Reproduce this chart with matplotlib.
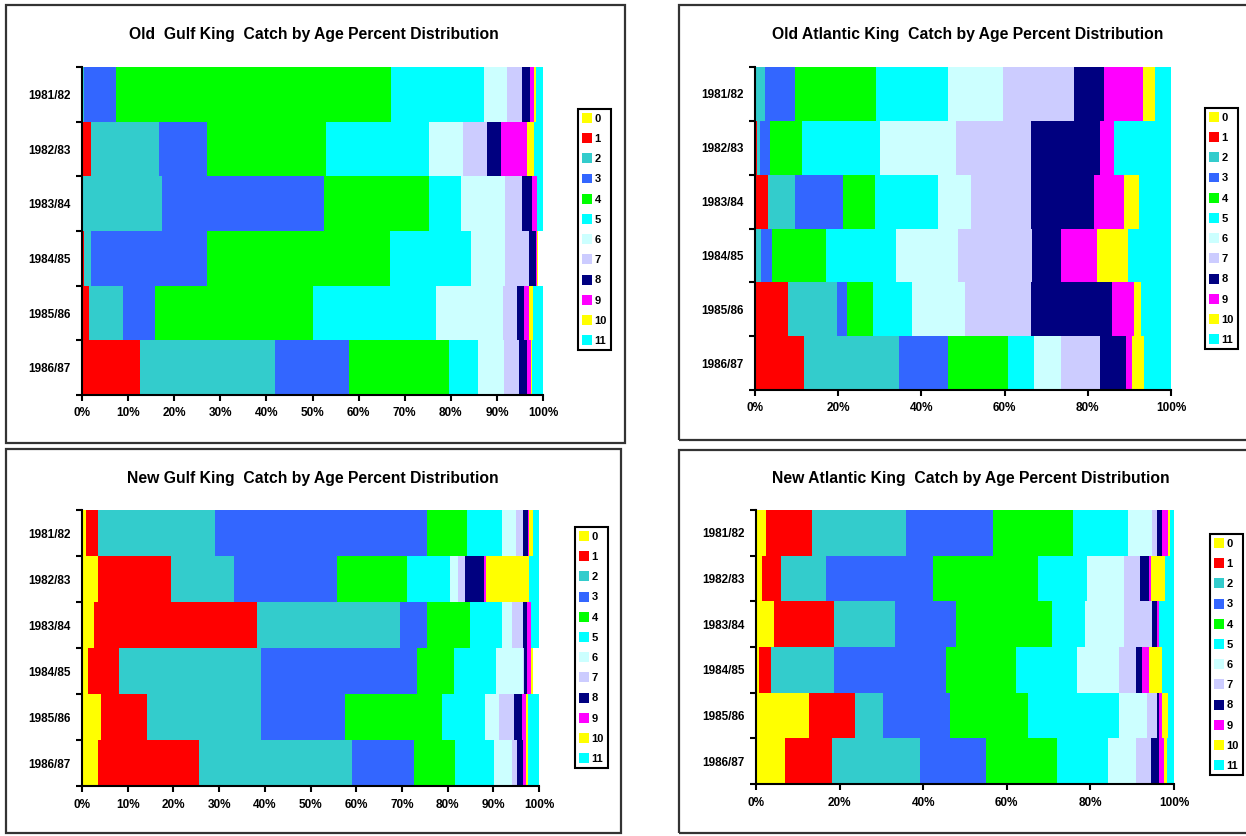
import numpy as np
import matplotlib
matplotlib.use("Agg")
import matplotlib.pyplot as plt
from matplotlib.patches import Patch, Rectangle

W, H = 1246, 836

seasons = ["1981/82", "1982/83", "1983/84", "1984/85", "1985/86", "1986/87"]
ages = [str(a) for a in range(12)]
age_colors = ["#FFFF00", "#FF0000", "#33CCCC", "#3366FF", "#00FF00", "#00FFFF",
              "#CCFFFF", "#CCCCFF", "#000080", "#FF00FF", "#FFFF00", "#00FFFF"]

# percent of catch at age 0..11, one row per season
old_gulf = [
    [0.2, 0.0, 0.2, 7.0, 59.7, 20.0, 5.1, 3.3, 1.6, 0.9, 0.4, 1.6],
    [0.3, 1.7, 14.7, 10.5, 25.7, 22.3, 7.4, 5.2, 3.0, 5.8, 1.4, 2.0],
    [0.2, 0.0, 17.2, 35.0, 22.8, 7.0, 9.6, 3.7, 2.2, 1.0, 0.1, 1.2],
    [0.1, 0.4, 1.4, 25.3, 39.6, 17.6, 7.4, 5.1, 1.6, 0.3, 0.2, 0.0],
    [0.3, 1.3, 7.4, 6.8, 34.2, 26.7, 14.6, 3.1, 1.4, 1.1, 1.0, 2.1],
    [0.3, 12.3, 29.3, 16.1, 21.6, 6.4, 5.5, 3.3, 1.7, 0.8, 0.4, 2.3],
]
old_atlantic = [
    [0.2, 0.1, 2.1, 7.3, 19.5, 17.1, 13.4, 17.1, 7.1, 9.4, 2.8, 3.9],
    [0.2, 0.4, 0.6, 2.3, 7.7, 18.8, 18.4, 18.0, 16.6, 3.3, 0.0, 13.7],
    [0.2, 3.0, 6.5, 11.4, 7.7, 15.1, 8.1, 14.4, 15.1, 7.3, 3.6, 7.6],
    [0.3, 0.0, 1.1, 2.6, 13.0, 16.8, 14.9, 17.9, 7.0, 8.6, 7.4, 10.4],
    [0.3, 7.7, 11.8, 2.4, 6.2, 9.3, 12.7, 16.0, 19.4, 5.3, 1.6, 7.3],
    [0.3, 11.4, 22.8, 11.8, 14.4, 6.3, 6.6, 9.3, 6.2, 1.6, 2.8, 6.5],
]
new_gulf = [
    [0.9, 2.6, 25.5, 46.6, 8.6, 7.8, 3.0, 1.4, 1.3, 0.2, 0.7, 1.4],
    [3.5, 16.0, 13.7, 22.5, 15.5, 9.3, 1.7, 1.6, 4.2, 0.5, 9.4, 2.1],
    [2.6, 35.7, 31.2, 6.1, 9.3, 7.1, 2.2, 2.2, 0.9, 0.9, 0.0, 1.8],
    [1.3, 6.7, 31.1, 34.3, 8.1, 9.1, 5.8, 0.3, 0.6, 0.9, 0.4, 0.0],
    [4.2, 10.0, 24.9, 18.5, 21.1, 9.4, 3.2, 3.3, 1.6, 0.9, 0.6, 2.3],
    [3.5, 22.2, 33.3, 13.7, 8.9, 8.6, 3.8, 1.2, 1.4, 0.5, 0.6, 2.3],
]
new_atlantic = [
    [2.5, 10.9, 22.6, 20.6, 19.2, 13.2, 5.8, 1.1, 1.2, 1.5, 0.4, 1.0],
    [1.4, 4.5, 10.8, 25.7, 25.0, 11.7, 9.0, 3.7, 2.2, 0.4, 3.4, 2.2],
    [4.4, 14.3, 14.5, 14.6, 22.9, 8.0, 9.3, 6.8, 1.2, 0.3, 0.0, 3.7],
    [0.7, 3.0, 15.0, 26.7, 16.9, 14.5, 10.1, 3.9, 1.6, 1.6, 3.1, 2.9],
    [12.6, 11.0, 6.8, 16.1, 18.6, 21.7, 6.8, 2.4, 0.4, 0.8, 1.4, 1.4],
    [7.0, 11.3, 21.0, 15.7, 16.9, 12.2, 6.9, 3.4, 2.0, 1.1, 0.8, 1.7],
]

plt.rcParams["font.family"] = ["Liberation Sans", "DejaVu Sans"]
plt.rcParams["font.weight"] = "bold"


def fx(x):
    return x / W


def fy(y):
    return 1 - y / H


def draw_panel(fig, data, title, step, box, axes_px, title_xy, legend_xy):
    # outer frame of the chart object
    x0, y0, x1, y1 = box
    fig.add_artist(Rectangle((fx(x0), fy(y1)), (x1 - x0) / W, (y1 - y0) / H,
                             transform=fig.transFigure, fill=False,
                             edgecolor="#333333", linewidth=1.6))
    fig.text(fx(title_xy[0]), fy(title_xy[1]), title, ha="center", va="center",
             fontsize=11.3, fontweight="bold")

    ax_l, ax_t, ax_r, ax_b = axes_px
    ax = fig.add_axes([fx(ax_l), fy(ax_b), (ax_r - ax_l) / W, (ax_b - ax_t) / H])

    values = np.array(data)
    y = np.arange(len(seasons))
    left = np.zeros(len(seasons))
    for i, age in enumerate(ages):
        ax.barh(y, values[:, i], left=left, height=1.0, color=age_colors[i],
                linewidth=0, label=age)
        left += values[:, i]

    ax.set_xlim(0, 100)
    ax.set_ylim(len(seasons) - 0.5, -0.5)
    ax.set_xticks(np.arange(0, 101, step))
    ax.set_xticklabels(["{0}%".format(v) for v in range(0, 101, step)])
    ax.set_yticks(np.arange(len(seasons) + 1) - 0.5)
    ax.set_yticklabels([])
    ax.set_yticks(y, minor=True)
    ax.set_yticklabels(seasons, minor=True)
    ax.tick_params(axis="y", which="major", direction="out", length=4, width=1.5)
    ax.tick_params(axis="y", which="minor", length=0, pad=8, labelsize=8.5)
    ax.tick_params(axis="x", direction="out", length=4, width=1.5, pad=5, labelsize=8.5)
    for s in ["top", "right"]:
        ax.spines[s].set_visible(False)
    for s in ["left", "bottom"]:
        ax.spines[s].set_linewidth(1.5)

    handles = [Patch(facecolor=c, edgecolor="none") for c in age_colors]
    leg = fig.legend(handles, ages, loc="upper left",
                     bbox_to_anchor=(fx(legend_xy[0]), fy(legend_xy[1])),
                     frameon=True, fancybox=False, edgecolor="black", framealpha=1,
                     prop={"weight": "bold", "size": 8},
                     handlelength=0.9, handleheight=1.0, handletextpad=0.25,
                     labelspacing=0.85, borderpad=0.35, borderaxespad=0)
    leg.get_frame().set_linewidth(1.5)
    return ax


fig = plt.figure(figsize=(W / 100, H / 100), dpi=100)

draw_panel(fig, old_gulf, "Old  Gulf King  Catch by Age Percent Distribution", 10,
           (6, 5, 625, 443), (82, 67, 543, 395), (314, 35), (578, 109))
draw_panel(fig, old_atlantic, "Old Atlantic King  Catch by Age Percent Distribution", 20,
           (679, 5, 1260, 440), (755, 67, 1171, 390), (968, 35), (1205, 108))
draw_panel(fig, new_gulf, "New Gulf King  Catch by Age Percent Distribution", 10,
           (6, 449, 621, 833), (82, 510, 539, 786), (313, 478), (575, 527))
draw_panel(fig, new_atlantic, "New Atlantic King  Catch by Age Percent Distribution", 20,
           (679, 450, 1260, 833), (756, 510, 1174, 784), (971, 478), (1210, 534))

fig.savefig("out.png", dpi=100)
